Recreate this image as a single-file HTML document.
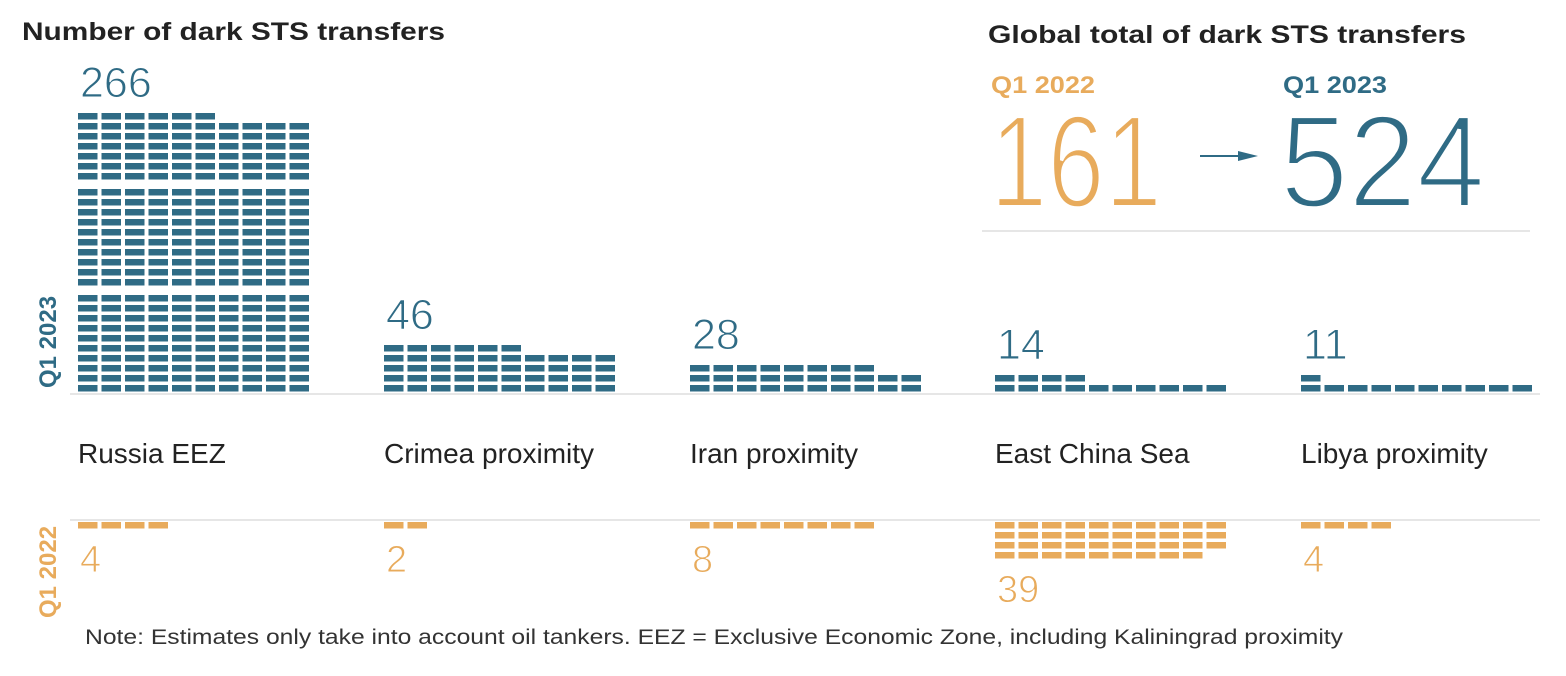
<!DOCTYPE html>
<html><head><meta charset="utf-8"><style>
body{margin:0;background:#fff;width:1566px;height:676px;overflow:hidden}
svg{display:block}
text{font-family:"Liberation Sans",sans-serif}
</style></head><body>
<svg id="s" width="1566" height="676" viewBox="0 0 1566 676">
<text x="22" y="40" font-size="25" font-weight="bold" fill="#222" textLength="423" lengthAdjust="spacingAndGlyphs">Number of dark STS transfers</text>
<text x="988" y="43" font-size="25" font-weight="bold" fill="#222" textLength="478" lengthAdjust="spacingAndGlyphs">Global total of dark STS transfers</text>
<text x="991" y="93" font-size="24" font-weight="bold" fill="#e8ab5c" textLength="104" lengthAdjust="spacingAndGlyphs">Q1 2022</text>
<text x="1283" y="93" font-size="24" font-weight="bold" fill="#2f6b85" textLength="104" lengthAdjust="spacingAndGlyphs">Q1 2023</text>
<text x="990" y="207" font-size="132" fill="#e8ab5c" stroke="#fff" stroke-width="4" textLength="172" lengthAdjust="spacingAndGlyphs">161</text>
<text x="1280" y="207" font-size="132" fill="#2f6b85" stroke="#fff" stroke-width="4" textLength="205" lengthAdjust="spacingAndGlyphs">524</text>
<line x1="1200" y1="156" x2="1240" y2="156" stroke="#2f6b85" stroke-width="2"/>
<polygon points="1238,151 1238,161 1258,156" fill="#2f6b85"/>
<line x1="982" y1="231" x2="1530" y2="231" stroke="#e6e6e6" stroke-width="2"/>
<line x1="70" y1="394" x2="1540" y2="394" stroke="#e6e6e6" stroke-width="2"/>
<line x1="70" y1="520" x2="1540" y2="520" stroke="#e6e6e6" stroke-width="2"/>
<text transform="translate(56,342) rotate(-90)" text-anchor="middle" font-size="24" font-weight="bold" fill="#2f6b85">Q1 2023</text>
<text transform="translate(56,572) rotate(-90)" text-anchor="middle" font-size="24" font-weight="bold" fill="#e8ab5c">Q1 2022</text>
<g id="g"></g>
<text x="85" y="644" font-size="21" fill="#333" textLength="1258" lengthAdjust="spacingAndGlyphs">Note: Estimates only take into account oil tankers. EEZ = Exclusive Economic Zone, including Kaliningrad proximity</text>
</svg>
<script>
var g=document.getElementById('g'),NS='http://www.w3.org/2000/svg';
function r(x,y,w,h,c){var e=document.createElementNS(NS,'rect');e.setAttribute('x',x);e.setAttribute('y',y);e.setAttribute('width',w);e.setAttribute('height',h);e.setAttribute('fill',c);g.appendChild(e);}
function t(x,y,s,c,txt){var e=document.createElementNS(NS,'text');e.setAttribute('x',x);e.setAttribute('y',y);e.setAttribute('font-size',s);e.setAttribute('fill',c);e.setAttribute('stroke','#fff');e.setAttribute('stroke-width','1');e.textContent=txt;g.appendChild(e);}
var B='#2f6b85',O='#e8ab5c',P=23.5,W=19.5;
var cats=[[78,'Russia EEZ',266,4],[384,'Crimea proximity',46,2],[690,'Iran proximity',28,8],[995,'East China Sea',14,39],[1301,'Libya proximity',11,4]];
cats.forEach(function(c){
 var x0=c[0],n=c[2],top=400;
 for(var i=0;i<n;i++){var row=Math.floor(i/10),col=i%10,grp=Math.floor(row/10);
  var y=385-row*10-grp*6;top=Math.min(top,y);r(x0+col*P,y,W,6.5,B);}
 t(x0+2,top-16,43,B,String(n));
 var e=document.createElementNS(NS,'text');e.setAttribute('x',x0);e.setAttribute('y',463);e.setAttribute('font-size',28);e.setAttribute('fill','#222');e.textContent=c[1];g.appendChild(e);
 var m=c[3],bot=0;
 for(var i=0;i<m;i++){var row=Math.floor(i/10),col=i%10;var y=522+row*10;bot=Math.max(bot,y);r(x0+col*P,y,W,6.5,O);}
 t(x0+2,bot+50,38,O,String(m));
});
</script>
</body></html>
